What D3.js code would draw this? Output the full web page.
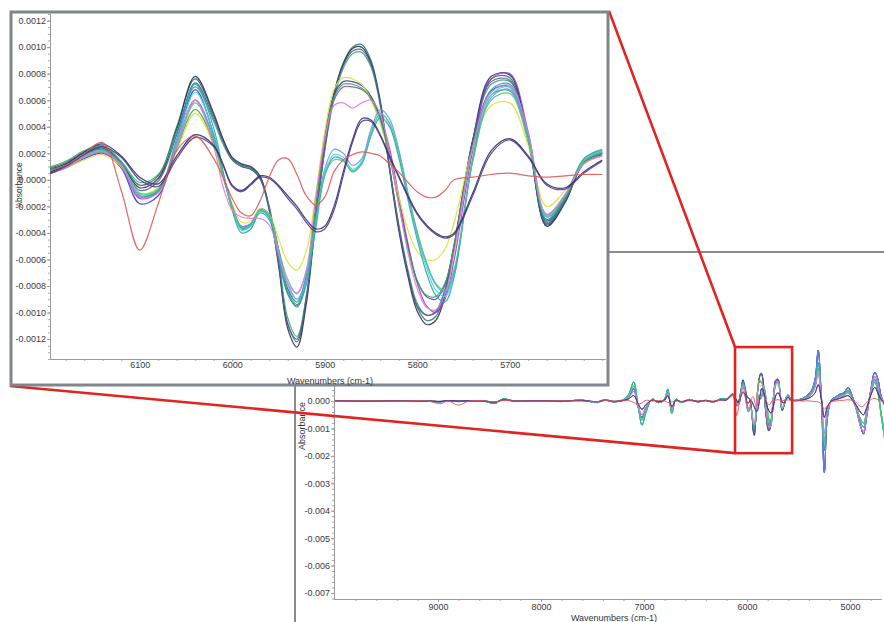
<!DOCTYPE html>
<html>
<head>
<meta charset="utf-8">
<script src="https://cdn.jsdelivr.net/npm/d3@7"></script>
<style>
body { margin: 0; background: #fff; }
svg { display: block; font-family: "Liberation Sans", Arial, sans-serif; }
</style>
</head>
<body>
<svg id="chart" width="884" height="622"></svg>
<script>
// wavenumber grids (cm-1)
var insetWn = [6200, 6180, 6160, 6140, 6120, 6100, 6080, 6060, 6040, 6020, 6010, 6000, 5990, 5980, 5970, 5960,
               5950, 5940, 5930, 5920, 5910, 5900, 5890, 5880, 5870, 5860, 5850, 5840, 5830, 5820, 5810, 5800,
               5790, 5780, 5770, 5760, 5740, 5720, 5700, 5680, 5660, 5640, 5620, 5600];
var outerLeftWn = [10000, 9700, 9400, 9100, 8980, 8900, 8800, 8700, 8550, 8450, 8370, 8250, 8000, 7800, 7600, 7450,
                   7380, 7300, 7200, 7150, 7100, 7060, 7020, 6980, 6920, 6860, 6800, 6770, 6730, 6690, 6640, 6560,
                   6480, 6400, 6330, 6260];
var outerRightWn = [5580, 5540, 5500, 5460, 5420, 5380, 5340, 5310, 5280, 5250, 5220, 5180, 5140, 5100, 5060, 5020,
                    4980, 4940, 4900, 4870, 4840, 4800, 4760, 4730, 4700, 4660];

// absorbance, in units of 1e-4, on insetWn
var sT1 = [0.8, 1.3, 2.1, 2.5, 1.3, -0.4, 0.3, 4.0, 7.6, 4.8, 3.0, 1.6, 1.1, 0.9, 0.2, -2.0, -6.0, -10.8, -12.2, -9.0, -3.0, 2.5, 6.5, 8.8, 10.0, 10.2, 9.0, 6.0, 1.0, -3.5, -7.0, -9.6, -10.6, -10.3, -8.5, -5.0, 3.0, 7.6, 7.7, 3.0, -3.4, -1.6, 1.4, 2.1];
var sT2 = [0.7, 1.2, 2.0, 2.4, 1.2, -0.6, 0.1, 3.8, 7.8, 5.0, 3.1, 1.7, 1.2, 1.0, 0.3, -2.2, -6.4, -11.2, -12.6, -9.4, -3.2, 2.3, 6.4, 8.7, 9.9, 10.0, 8.8, 5.8, 0.8, -3.8, -7.3, -9.9, -10.9, -10.6, -8.7, -5.1, 3.0, 7.8, 7.9, 3.1, -3.5, -1.7, 1.3, 2.0];
var sT3 = [0.9, 1.4, 2.2, 2.6, 1.4, -0.2, 0.4, 3.6, 7.0, 4.4, 2.7, 1.5, 1.0, 0.8, 0.1, -2.1, -5.8, -10.4, -11.8, -8.8, -3.0, 2.2, 6.1, 8.4, 9.5, 9.6, 8.5, 5.6, 0.9, -3.3, -6.8, -9.3, -10.2, -9.9, -8.2, -4.8, 2.8, 7.2, 7.4, 3.0, -3.2, -1.5, 1.5, 2.2];
var sT4 = [0.6, 1.1, 1.9, 2.3, 1.1, -0.8, -0.1, 3.4, 7.3, 4.6, 2.9, 1.5, 1.0, 0.8, 0.1, -2.3, -6.2, -10.9, -12.0, -8.9, -3.0, 2.4, 6.4, 8.6, 9.7, 9.8, 8.7, 5.8, 1.0, -3.5, -7.0, -9.5, -10.2, -10.0, -8.4, -4.9, 2.9, 7.4, 7.5, 2.9, -3.3, -1.6, 1.3, 2.0];
var sW1 = [0.4, 0.9, 1.6, 2.0, 0.9, -1.8, -1.2, 2.8, 6.8, 3.4, 0.5, -2.0, -3.6, -3.4, -2.2, -2.6, -5.2, -8.2, -9.2, -7.3, -2.2, 3.2, 6.4, 7.4, 7.4, 7.1, 6.3, 4.7, 2.0, -1.6, -5.0, -7.6, -8.8, -9.0, -7.9, -5.0, 2.6, 6.7, 7.0, 3.1, -3.1, -1.4, 1.2, 1.9];
var sW2 = [0.5, 1.0, 1.7, 2.1, 1.0, -1.4, -0.9, 2.6, 6.0, 3.0, 0.3, -2.1, -3.5, -3.3, -2.3, -2.8, -5.5, -8.6, -9.5, -7.6, -2.5, 2.8, 6.0, 7.0, 7.0, 6.8, 6.2, 4.8, 2.4, -1.2, -4.8, -7.8, -9.5, -10.0, -9.0, -6.0, 2.2, 7.6, 8.0, 3.6, -2.8, -1.3, 1.2, 1.8];
var sW3 = [0.5, 0.9, 1.5, 1.9, 1.0, -1.0, -0.6, 2.2, 5.0, 2.6, 0.2, -1.8, -3.2, -3.1, -2.2, -2.6, -4.4, -6.2, -6.8, -5.4, -1.2, 3.6, 6.8, 7.7, 7.6, 7.2, 6.0, 4.2, 1.8, -1.2, -3.8, -5.4, -6.0, -6.0, -5.2, -3.2, 2.4, 5.6, 5.8, 2.6, -2.0, -0.8, 1.2, 1.8];
var sW4 = [0.6, 1.0, 1.7, 2.1, 1.1, -1.2, -0.8, 2.4, 5.3, 2.8, 0.3, -2.0, -3.7, -3.5, -2.3, -2.7, -5.3, -8.4, -9.4, -7.4, -2.3, 3.0, 6.2, 7.2, 7.2, 6.9, 6.1, 4.5, 1.8, -1.8, -5.2, -7.7, -8.7, -8.8, -7.8, -4.9, 2.5, 6.4, 6.7, 3.0, -3.0, -1.4, 1.3, 2.0];
var sD1 = [0.6, 1.0, 1.8, 2.2, 1.2, -1.0, -0.7, 2.8, 6.6, 3.5, 0.5, -2.2, -3.8, -3.5, -2.4, -2.8, -5.5, -8.0, -9.2, -7.6, -3.5, 0.5, 1.9, 1.7, 0.8, 1.4, 3.6, 5.0, 4.2, 2.0, -1.2, -4.2, -6.6, -8.3, -8.8, -7.0, 1.5, 6.4, 7.0, 3.2, -2.8, -1.2, 1.5, 2.2];
var sD2 = [0.5, 0.9, 1.7, 2.1, 1.1, -1.2, -0.9, 2.5, 6.0, 3.2, 0.4, -2.0, -3.5, -3.3, -2.3, -2.8, -5.3, -7.8, -9.0, -7.4, -3.2, 0.8, 2.3, 2.0, 1.1, 1.6, 3.8, 5.3, 4.6, 2.3, -1.0, -4.0, -6.3, -7.9, -8.5, -6.9, 1.4, 6.2, 6.8, 3.0, -2.6, -1.1, 1.4, 2.1];
var sD3 = [0.7, 1.1, 1.9, 2.3, 1.2, -1.3, -0.8, 3.1, 7.2, 3.9, 0.7, -2.3, -4.0, -3.7, -2.5, -3.0, -5.9, -8.6, -9.6, -7.9, -3.8, 0.3, 1.7, 1.5, 0.6, 1.2, 3.3, 4.7, 4.0, 1.7, -1.5, -4.5, -7.0, -8.7, -9.2, -7.3, 1.6, 6.8, 7.2, 3.3, -3.0, -1.3, 1.6, 2.3];
var sD4 = [0.6, 1.0, 1.8, 2.2, 1.1, -1.1, -0.7, 2.5, 5.8, 3.1, 0.4, -2.1, -3.6, -3.4, -2.3, -2.7, -5.2, -7.5, -8.6, -7.0, -3.2, 0.4, 1.5, 1.4, 0.7, 1.3, 3.4, 5.0, 4.3, 2.1, -1.0, -3.9, -6.2, -7.8, -8.3, -6.7, 1.4, 6.0, 6.5, 2.9, -2.7, -1.2, 1.4, 2.1];
var sP1 = [0.5, 0.9, 1.7, 2.1, 1.1, -1.3, -1.0, 2.5, 6.0, 2.5, -0.5, -2.3, -2.8, -2.9, -2.9, -3.4, -5.5, -7.8, -8.5, -6.8, -1.5, 3.0, 5.6, 5.8, 5.4, 5.8, 6.0, 5.0, 2.0, -1.8, -5.5, -8.2, -9.6, -9.8, -8.6, -5.4, 2.5, 6.6, 7.1, 3.5, -2.6, -1.1, 1.2, 1.8];
var sK1 = [0.5, 1.1, 2.1, 2.7, 1.8, 0.2, -0.3, 1.8, 3.4, 2.6, 1.2, -0.4, -0.8, -0.3, 0.3, 0.2, -0.4, -1.2, -2.0, -3.0, -3.7, -3.5, -2.0, 0.6, 3.0, 4.6, 4.5, 3.4, 1.8, 0.3, -1.2, -2.5, -3.4, -4.0, -4.3, -4.0, -1.0, 2.2, 3.1, 1.8, -0.3, -0.6, 0.6, 1.5];
var sK2 = [0.4, 1.0, 1.9, 2.5, 1.7, 0.0, -0.5, 1.6, 3.2, 2.5, 1.1, -0.5, -0.9, -0.4, 0.2, 0.1, -0.5, -1.4, -2.2, -3.2, -3.9, -3.7, -2.3, 0.3, 2.8, 4.4, 4.4, 3.3, 1.7, 0.2, -1.3, -2.6, -3.5, -4.1, -4.4, -4.1, -1.2, 2.0, 3.0, 1.7, -0.4, -0.7, 0.5, 1.4];
var sR1 = [0.7, 1.1, 2.0, 2.8, -0.8, -5.3, -1.8, 2.2, 3.3, 1.6, 0.2, -1.4, -2.5, -2.7, -1.6, 0.2, 1.5, 1.6, 0.4, -1.2, -1.9, -1.3, 0.6, 1.5, 1.9, 2.1, 2.0, 1.8, 1.2, 0.6, -0.2, -0.9, -1.3, -1.3, -0.8, 0.0, 0.2, 0.4, 0.5, 0.3, 0.2, 0.3, 0.4, 0.4];

// full-spectrum profiles outside the zoomed range (1e-4), on outerLeftWn / outerRightWn
var leftA = [0.1, 0.0, 0.2, 0.0, -0.3, 0.1, -0.2, 0.1, 0.0, -0.8, 0.6, 0.0, 0.2, 0.0, 0.3, -0.5, 0.6, -0.3, 0.4, 1.5, 4.5, -2.0, -6.0, -2.5, 0.5, -0.5, 0.5, 3.5, -3.5, 0.5, -0.5, 0.6, -0.3, 0.2, -0.4, 0.6];
var leftB = [0.1, 0.1, 0.1, -0.1, -0.2, 0.0, -0.1, 0.2, -0.1, -0.9, 0.8, 0.0, 0.1, -0.2, 0.4, -0.6, 0.5, -0.2, 0.6, 2.5, 7.0, -1.0, -8.8, -4.0, 0.8, -0.6, 1.0, 4.4, -4.0, 0.8, -0.6, 0.5, -0.2, 0.3, -0.3, 0.8];
var leftC = [0.0, 0.1, 0.0, 0.1, -0.2, 0.0, -0.1, 0.0, 0.1, -0.6, 0.5, 0.1, 0.0, 0.1, 0.2, -0.4, 0.4, -0.2, 0.3, 1.8, 5.5, -1.5, -7.0, -3.0, 0.6, -0.4, 0.8, 4.0, -4.5, 0.6, -0.4, 0.4, -0.2, 0.2, -0.3, 0.5];
var leftD = [0.0, 0.0, 0.1, 0.0, -0.2, 0.1, -0.1, 0.1, 0.0, -0.5, 0.4, 0.0, 0.1, 0.0, 0.2, -0.4, 0.3, -0.2, 0.3, 1.2, 3.5, -1.5, -5.0, -2.0, 0.4, -0.3, 0.5, 3.0, -3.0, 0.4, -0.3, 0.4, -0.2, 0.2, -0.3, 0.5];
var leftE = [0.1, 0.0, 0.1, 0.0, -0.1, 0.1, 0.0, 0.1, 0.0, -0.4, 0.4, 0.0, 0.1, 0.0, 0.2, -0.2, 0.3, -0.1, 0.2, 0.8, 2.0, -0.8, -3.0, -1.2, 0.3, -0.2, 0.4, 2.0, -2.0, 0.3, -0.2, 0.3, -0.1, 0.2, -0.2, 0.4];
var leftR = [0.0, 0.1, 0.0, 0.0, -1.0, 0.0, -1.5, 0.0, 0.1, -0.3, 0.2, 0.0, 0.0, 0.1, 0.0, -0.2, 0.2, 0.0, 0.1, 0.2, -0.5, -1.2, -0.6, 0.3, 0.0, 0.2, 0.0, -0.5, -0.3, 0.0, -0.1, 0.1, 0.0, 0.1, 0.0, 0.3];
var rightA = [1.0, 0.2, 0.5, 1.0, 2.0, 3.5, 8.0, 18.5, 2.0, -26.0, -6.0, 0.5, 1.5, 2.5, 3.0, 5.0, 2.0, -3.0, -9.0, -12.0, -6.0, 4.0, 10.5, 8.0, 2.0, -2.0];
var rightB = [0.8, 0.3, 0.4, 0.8, 1.6, 3.0, 6.5, 14.0, 2.5, -18.0, -5.0, 0.3, 1.2, 2.0, 2.5, 4.0, 1.5, -2.5, -7.5, -9.5, -5.0, 3.0, 8.0, 4.0, -4.0, -13.0];
var rightC = [0.6, 0.2, 0.4, 0.7, 1.4, 2.6, 5.5, 12.0, 2.0, -15.0, -4.0, 0.2, 1.0, 1.8, 2.2, 3.5, 1.0, -2.0, -6.5, -8.0, -4.0, 2.5, 7.0, 3.0, -5.0, -15.0];
var rightD = [0.5, 0.2, 0.3, 0.6, 1.2, 2.2, 5.0, 10.0, 1.5, -12.0, -3.5, 0.2, 0.8, 1.5, 2.0, 3.0, 0.5, -3.0, -9.0, -11.0, -5.0, 3.5, 9.0, 6.0, 1.0, 0.0];
var rightE = [0.4, 0.1, 0.2, 0.4, 0.8, 1.5, 3.0, 6.0, 1.0, -6.0, -2.0, 0.1, 0.5, 1.0, 1.5, 2.0, 0.5, -1.5, -4.0, -5.0, -2.5, 2.0, 5.0, 3.0, 0.5, -1.0];
var rightR = [0.4, 0.2, 0.1, 0.0, 0.1, 0.0, -0.2, -0.3, -1.0, -3.0, -1.5, -0.3, 0.0, 0.2, 0.3, 0.5, 0.2, -0.5, -2.0, -1.8, -0.5, 0.5, 1.0, 0.5, 0.0, -0.2];

var seriesColors = ["#1d7570", "#2c2c44", "#3aa66e", "#55559a", "#3838c8", "#9840c8", "#e0e030", "#30b040",
                    "#40d8e8", "#7090f0", "#22a8a8", "#50c880", "#e878e0", "#2b2b78", "#553585", "#e05858"];

// tick labels
var insetXTicks = [6100, 6000, 5900, 5800, 5700];
var insetYTicks = [0.0012, 0.0010, 0.0008, 0.0006, 0.0004, 0.0002, 0, -0.0002, -0.0004, -0.0006, -0.0008, -0.0010, -0.0012];
var backXTicks = [9000, 8000, 7000, 6000, 5000];
var backYTicks = [0, -0.001, -0.002, -0.003, -0.004, -0.005, -0.006, -0.007];

// region marked on the full spectrum (wavenumbers, absorbance)
var zoomBoxWn = [6117, 5563];
var zoomBoxAbs = [0.00197, -0.0019];

window.onload = function() {
    var svg = d3.select("#chart");

    var series = [
        {v: sT1, l: leftB, r: rightB}, {v: sT2, l: leftA, r: rightA}, {v: sT3, l: leftC, r: rightC},
        {v: sT4, l: leftA, r: rightA}, {v: sW1, l: leftA, r: rightA}, {v: sW2, l: leftD, r: rightD},
        {v: sW3, l: leftC, r: rightC}, {v: sW4, l: leftC, r: rightC}, {v: sD1, l: leftB, r: rightB},
        {v: sD2, l: leftA, r: rightA}, {v: sD3, l: leftB, r: rightB}, {v: sD4, l: leftC, r: rightC},
        {v: sP1, l: leftD, r: rightD}, {v: sK1, l: leftE, r: rightE}, {v: sK2, l: leftE, r: rightE},
        {v: sR1, l: leftR, r: rightR}
    ];
    series.forEach(function(s, i) {
        s.color = seriesColors[i];
        s.inset = insetWn.map(function(w, j) { return [w, s.v[j] * 1e-4]; });
        s.full = outerLeftWn.map(function(w, j) { return [w, s.l[j] * 1e-4]; })
            .concat(s.inset)
            .concat(outerRightWn.map(function(w, j) { return [w, s.r[j] * 1e-4]; }));
    });

    var defs = svg.append("defs");
    defs.append("clipPath").attr("id", "clipBack").append("rect")
        .attr("x", 334).attr("y", 256).attr("width", 560).attr("height", 343);
    defs.append("clipPath").attr("id", "clipInset").append("rect")
        .attr("x", 50).attr("y", 13).attr("width", 555).attr("height", 346);

    //---------------- full spectrum (behind) ----------------
    svg.append("rect")
        .attr("x", 295).attr("y", 252).attr("width", 640).attr("height", 420)
        .style("fill", "#fff").style("stroke", "#8a8a8a").style("stroke-width", 2);

    var xBack = d3.scaleLinear().domain([10010, 4700]).range([334, 881]);
    var yBack = d3.scaleLinear().domain([-0.00722, 0.005]).range([599, 264]);

    var gBack = svg.append("g");

    // minor ticks
    gBack.append("g").attr("transform", "translate(0,599)").attr("color", "#a8a8a8")
        .call(d3.axisBottom(xBack).tickValues(d3.range(9800, 4700, -200)).tickSize(2).tickSizeOuter(0).tickFormat(""));
    gBack.append("g").attr("transform", "translate(334,0)").attr("color", "#a8a8a8")
        .call(d3.axisLeft(yBack).tickValues(d3.range(-0.0072, 0.005, 0.0002)).tickSize(2).tickSizeOuter(0).tickFormat(""));

    var bx = gBack.append("g").attr("transform", "translate(0,599)").attr("color", "#9a9a9a")
        .call(d3.axisBottom(xBack).tickValues(backXTicks).tickSize(3).tickPadding(2).tickSizeOuter(0)
            .tickFormat(function(d) { return d; }));
    var by = gBack.append("g").attr("transform", "translate(334,0)").attr("color", "#9a9a9a")
        .call(d3.axisLeft(yBack).tickValues(backYTicks).tickSize(3).tickPadding(1).tickSizeOuter(0)
            .tickFormat(function(d) { return d.toFixed(3); }));
    [bx, by].forEach(function(a) {
        a.selectAll("text").style("fill", "#3a3a3a").style("font-size", "9px")
            .style("font-family", "Liberation Sans, Arial, sans-serif");
    });

    var backLine = d3.line()
        .x(function(d) { return xBack(d[0]); })
        .y(function(d) { return yBack(d[1]); })
        .curve(d3.curveCatmullRom.alpha(0.5));

    gBack.append("g").attr("clip-path", "url(#clipBack)")
        .selectAll("path").data(series).enter().append("path")
        .attr("d", function(d) { return backLine(d.full); })
        .style("fill", "none")
        .style("stroke", function(d) { return d.color; })
        .style("stroke-width", 1)
        .style("opacity", 0.9);

    gBack.append("text")
        .attr("transform", "translate(305,426) rotate(-90)")
        .style("text-anchor", "middle").style("font-size", "9px").style("fill", "#333")
        .text("Absorbance");
    gBack.append("text")
        .attr("x", 614).attr("y", 621)
        .style("text-anchor", "middle").style("font-size", "9px").style("fill", "#333")
        .text("Wavenumbers (cm-1)");

    // marked region and connectors
    var bx0 = xBack(zoomBoxWn[0]), bx1 = xBack(zoomBoxWn[1]);
    var by0 = yBack(zoomBoxAbs[0]), by1 = yBack(zoomBoxAbs[1]);
    svg.append("rect")
        .attr("x", bx0).attr("y", by0).attr("width", bx1 - bx0).attr("height", by1 - by0)
        .style("fill", "none").style("stroke", "#e02420").style("stroke-width", 2.6);
    svg.append("line").attr("x1", 609).attr("y1", 11).attr("x2", bx0).attr("y2", by0)
        .style("stroke", "#e02420").style("stroke-width", 2.6);
    svg.append("line").attr("x1", 10).attr("y1", 386).attr("x2", bx0).attr("y2", by1)
        .style("stroke", "#e02420").style("stroke-width", 2.6);

    //---------------- zoomed inset ----------------
    svg.append("rect")
        .attr("x", 11).attr("y", 12).attr("width", 597).attr("height", 373)
        .style("fill", "#fff").style("stroke", "#80868c").style("stroke-width", 3);

    var xIn = d3.scaleLinear().domain([6197, 5597]).range([50, 605]);
    var yIn = d3.scaleLinear().domain([-0.00135, 0.001257]).range([359, 13]);

    var gIn = svg.append("g");
    gIn.append("g").attr("transform", "translate(0,359)").attr("color", "#a8a8a8")
        .call(d3.axisBottom(xIn).tickValues(d3.range(6180, 5597, -20)).tickSize(2).tickSizeOuter(0).tickFormat(""));
    gIn.append("g").attr("transform", "translate(50,0)").attr("color", "#a8a8a8")
        .call(d3.axisLeft(yIn).tickValues(d3.range(-0.00135, 0.00126, 0.00005)).tickSize(2).tickSizeOuter(0).tickFormat(""));

    var ix = gIn.append("g").attr("transform", "translate(0,359)").attr("color", "#9a9a9a")
        .call(d3.axisBottom(xIn).tickValues(insetXTicks).tickSize(2.5).tickPadding(0).tickSizeOuter(0)
            .tickFormat(function(d) { return d; }));
    var iy = gIn.append("g").attr("transform", "translate(50,0)").attr("color", "#9a9a9a")
        .call(d3.axisLeft(yIn).tickValues(insetYTicks).tickSize(3).tickPadding(1).tickSizeOuter(0)
            .tickFormat(function(d) { return d.toFixed(4); }));
    [ix, iy].forEach(function(a) {
        a.selectAll("text").style("fill", "#3a3a3a").style("font-size", "9px")
            .style("font-family", "Liberation Sans, Arial, sans-serif");
    });

    var inLine = d3.line()
        .x(function(d) { return xIn(d[0]); })
        .y(function(d) { return yIn(d[1]); })
        .curve(d3.curveCatmullRom.alpha(0.5));

    gIn.append("g").attr("clip-path", "url(#clipInset)")
        .selectAll("path").data(series).enter().append("path")
        .attr("d", function(d) { return inLine(d.inset); })
        .style("fill", "none")
        .style("stroke", function(d) { return d.color; })
        .style("stroke-width", 1.2)
        .style("opacity", 0.9);

    gIn.append("text")
        .attr("transform", "translate(22,185) rotate(-90)")
        .style("text-anchor", "middle").style("font-size", "8.5px").style("fill", "#333")
        .text("Absorbance");
    gIn.append("text")
        .attr("x", 330).attr("y", 383.5)
        .style("text-anchor", "middle").style("font-size", "9px").style("fill", "#333")
        .text("Wavenumbers (cm-1)");
};
</script>
</body>
</html>
